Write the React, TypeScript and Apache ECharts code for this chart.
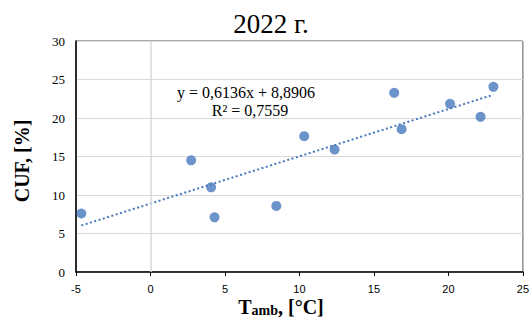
import React, { useEffect, useRef } from "react";
import * as echarts from "echarts";

const titleText = "2022 г.";
const tamb = [-4.64, 2.73, 4.07, 4.3, 8.45, 10.32, 12.36, 16.36, 16.86, 20.11, 22.16, 23.02];
const cuf = [7.6, 14.5, 11.0, 7.1, 8.58, 17.64, 15.9, 23.27, 18.55, 21.85, 20.15, 24.05];
const trendX = [-4.64, 23.02];
const trendY = [6.04, 23.02];
const equationLines = ["y = 0,6136x + 8,8906", "R² = 0,7559"];
const xTicks = { min: -5, max: 25, step: 5 };
const yTicks = { min: 0, max: 30, step: 5 };
const xName = ["T", "amb", ", [°C]"];
const yName = "CUF, [%]";

const SERIF = "'Liberation Serif', 'Times New Roman', serif";
const SANS = "'Liberation Sans', Arial, sans-serif";
const BLUE = "#4878BE";

export default function App() {
  const ref = useRef<HTMLDivElement>(null);
  useEffect(() => {
    if (!ref.current) return;
    const chart = echarts.init(ref.current, null, { renderer: "svg" });
    chart.setOption({
      animation: false,
      backgroundColor: "#fff",
      title: {
        text: titleText,
        left: 266,
        textAlign: "center",
        top: 5,
        textStyle: { fontFamily: SERIF, fontSize: 27, fontWeight: "normal", color: "#000" },
      },
      grid: {
        left: 76,
        right: 7,
        top: 41,
        bottom: 48,
        show: true,
        borderColor: "#595959",
        borderWidth: 1,
      },
      xAxis: {
        type: "value",
        min: xTicks.min,
        max: xTicks.max,
        interval: xTicks.step,
        axisLine: { onZero: false, lineStyle: { color: "#000", width: 1.5 } },
        axisTick: { show: true, length: 4, lineStyle: { color: "#000" } },
        axisLabel: { fontFamily: SANS, fontSize: 11, color: "#000", margin: 11 },
        splitLine: { show: false },
      },
      yAxis: {
        type: "value",
        min: yTicks.min,
        max: yTicks.max,
        interval: yTicks.step,
        axisLine: { show: true, onZero: false, lineStyle: { color: "#000", width: 1.5 } },
        axisTick: { show: false },
        axisLabel: { fontFamily: SERIF, fontSize: 13, color: "#000", margin: 11 },
        splitLine: { show: true, lineStyle: { color: "#d9d9d9", width: 1 } },
      },
      series: [
        {
          type: "line",
          data: trendX.map((x, i) => [x, trendY[i]]),
          showSymbol: false,
          symbol: "none",
          lineStyle: { color: BLUE, width: 2, type: [2, 2.5] },
          silent: true,
          z: 2,
          markLine: {
            silent: true,
            symbol: "none",
            label: { show: false },
            lineStyle: { color: "#d9d9d9", width: 1.5, type: "solid" },
            data: [{ xAxis: 0 }],
          },
        },
        {
          type: "scatter",
          data: tamb.map((x, i) => [x, cuf[i]]),
          symbol: "circle",
          symbolSize: 10,
          itemStyle: { color: BLUE },
          z: 3,
        },
      ],
      graphic: [
        {
          type: "text",
          x: 246,
          y: 92,
          style: {
            text: equationLines[0],
            fontFamily: SERIF,
            fontSize: 16,
            fill: "#000",
            align: "center",
            verticalAlign: "middle",
          },
        },
        {
          type: "text",
          x: 250,
          y: 110,
          style: {
            text: equationLines[1],
            fontFamily: SERIF,
            fontSize: 16,
            fill: "#000",
            align: "center",
            verticalAlign: "middle",
          },
        },
        {
          type: "text",
          x: 281,
          y: 307,
          style: {
            text: `{a|${xName[0]}}{b|${xName[1]}}{a|${xName[2]}}`,
            align: "center",
            verticalAlign: "middle",
            rich: {
              a: { fontFamily: SERIF, fontSize: 20, fontWeight: "bold", fill: "#000", color: "#000" },
              b: { fontFamily: SERIF, fontSize: 14, fontWeight: "bold", fill: "#000", color: "#000", verticalAlign: "bottom" },
            },
          },
        },
        {
          type: "text",
          x: 22,
          y: 161,
          rotation: Math.PI / 2,
          style: {
            text: yName,
            fontFamily: SERIF,
            fontSize: 20,
            fontWeight: "bold",
            fill: "#000",
            align: "center",
            verticalAlign: "middle",
          },
        },
      ],
    });
    return () => chart.dispose();
  }, []);
  return <div ref={ref} style={{ width: 532, height: 320, position: "absolute", left: 0, top: 0 }} />;
}
